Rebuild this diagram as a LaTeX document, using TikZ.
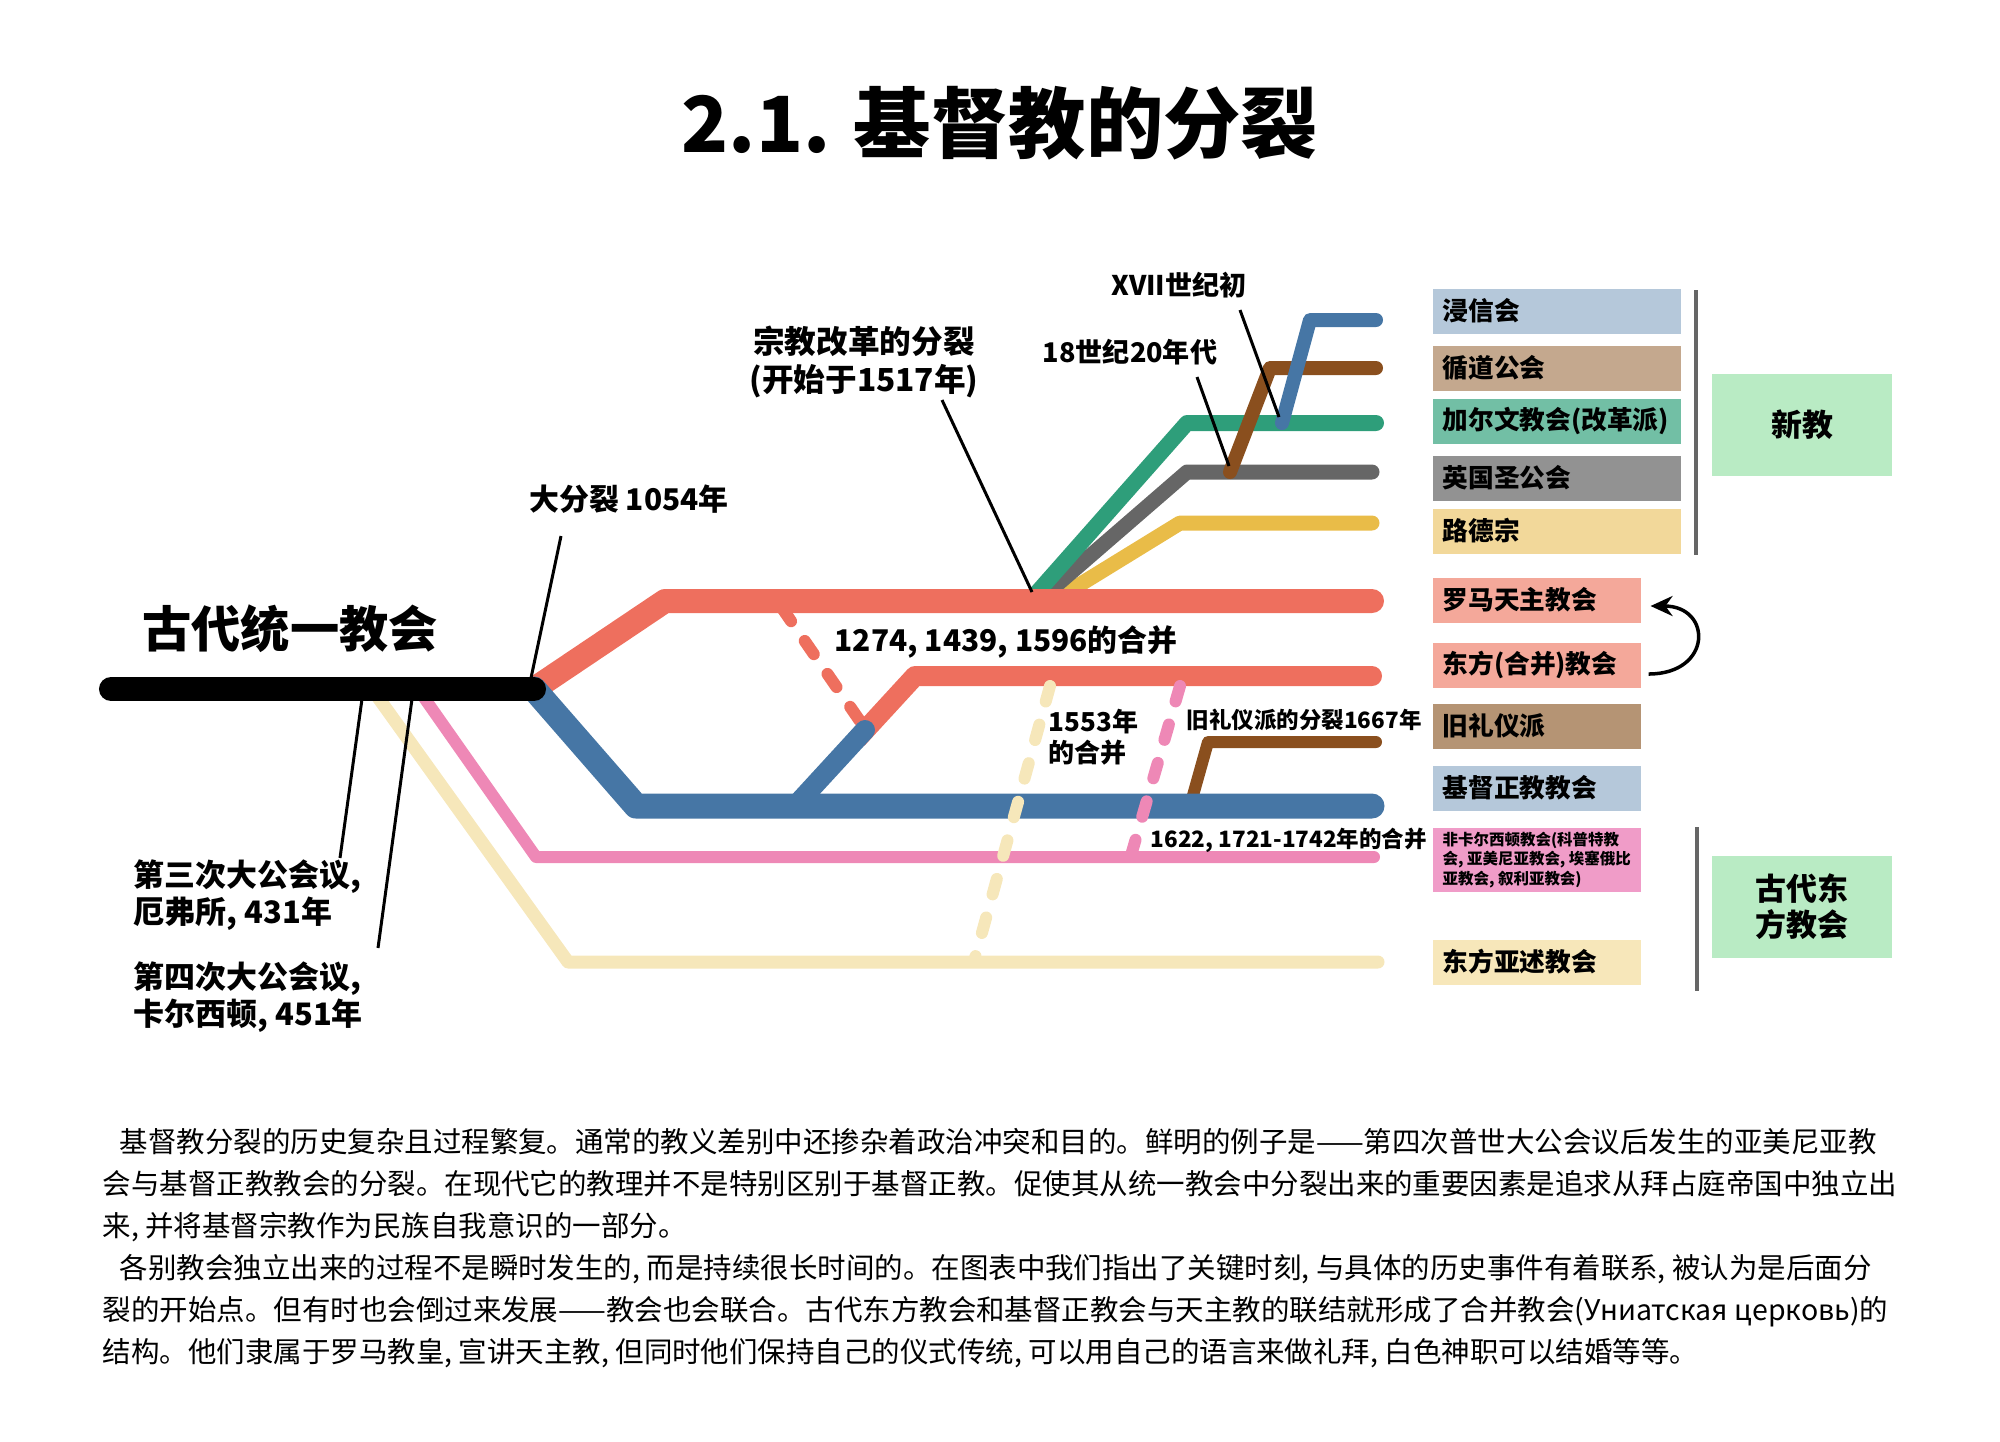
\documentclass[tikz,border=0pt]{standalone}
\usepackage{fontspec}
\setmainfont{Noto Sans CJK SC}
\usepackage{tikz}
\usetikzlibrary{arrows.meta,positioning,calc}

\definecolor{latin}{HTML}{EE6F5E}
\definecolor{orthodox}{HTML}{4676A5}
\definecolor{nonchalc}{HTML}{EE88B6}
\definecolor{assyrian}{HTML}{F6E7BA}
\definecolor{calvin}{HTML}{2E9E7A}
\definecolor{anglican}{HTML}{666666}
\definecolor{luther}{HTML}{E9BC48}
\definecolor{methodist}{HTML}{8A4F1E}
\definecolor{keybaptist}{HTML}{B5C8DA}
\definecolor{keymethodist}{HTML}{C4A88E}
\definecolor{keycalvin}{HTML}{72BFA5}
\definecolor{keyanglican}{HTML}{929292}
\definecolor{keyluther}{HTML}{F2D89A}
\definecolor{keylatin}{HTML}{F4A89A}
\definecolor{keyoldrite}{HTML}{B59474}
\definecolor{keynonchalc}{HTML}{F09CC8}
\definecolor{keyassyrian}{HTML}{F7E7BA}
\definecolor{keygroup}{HTML}{B9EBC4}

\begin{document}
\begin{tikzpicture}[x = 0.01cm, y = -0.01cm,
    branch/.style = {line cap = round, line join = round},
    merge/.style = {line cap = round, line width = 1.2mm, dash pattern = on 1.6mm off 2.4mm},
    leader/.style = {line width = 0.3mm},
    lab/.style = {inner sep = 0, font = \bfseries\fontsize{8.5}{11}\selectfont},
    small/.style = {inner sep = 0, anchor = west, align = left, font = \bfseries\fontsize{6.4}{8.8}\selectfont},
    keybox/.style = {anchor = west, inner xsep = 0.1cm, inner ysep = 0, minimum height = 0.45cm, align = left, font = \bfseries\fontsize{7.3}{9}\selectfont},
    groupbox/.style = {fill = keygroup, minimum width = 1.8cm, minimum height = 1.01cm, align = center, font = \bfseries\fontsize{8.8}{10.2}\selectfont}]
    \useasboundingbox (0,0) rectangle (2000,1441);
    \node[font = \bfseries\fontsize{22}{26}\selectfont] (title) at (1000,123) {2.1. 基督教的分裂};
    % Ancient eastern churches
    \draw[branch, line width = 1.3mm, assyrian] (372,689) -- (568,962) -- (1378,962);
    \draw[branch, line width = 1.2mm, nonchalc] (418,689) -- (536,857) -- (1374,857);
    % Protestants
    \draw[branch, line width = 1.5mm, luther] (1058,598) -- (1180,523) -- (1372,523);
    \draw[branch, line width = 1.5mm, anglican] (1045,595) -- (1187,472) -- (1372,472);
    \draw[branch, line width = 1.6mm, calvin] (1035,595) -- (1187,423) -- (1376,423);
    \draw[branch, line width = 1.4mm, methodist] (1230,472) -- (1270,368) -- (1376,368);
    \draw[branch, line width = 1.4mm, orthodox] (1282,423) -- (1310,320) -- (1376,320);
    % Rome and the uniates
    \draw[branch, line width = 2.4mm, latin] (534,689) -- (665,601) -- (1372,601);
    \draw[branch, line width = 2mm, latin] (858,738) -- (915,676) -- (1372,676);
    \draw[merge, latin] (782,608) -- (862,724);
    % Orthodox
    \draw[branch, line width = 1.2mm, methodist] (1190,806) -- (1208,742) -- (1376,742);
    \draw[branch, line width = 2.5mm, orthodox] (534,689) -- (636,806) -- (1372,806);
    \draw[branch, line width = 2mm, orthodox] (797,804) -- (865,730);
    \draw[merge, assyrian] (1050,686) -- (975,958);
    \draw[merge, nonchalc] (1180,686) -- (1132,852);
    % Ancient united church
    \draw[branch, line width = 2.4mm, black] (111,689) -- (534,689);
    \node[inner sep = 0, font = \bfseries\fontsize{14}{16}\selectfont] (united) at (290,629) {古代统一教会};
    % Labels and leaders
    \node[lab] (schism) at (629,499) {大分裂 1054年};
    \draw[leader] (561,536) -- (531,678);
    \node[lab, font = \bfseries\fontsize{9}{11}\selectfont, align = center] (reform) at (864,362) {宗教改革的分裂\\(开始于1517年)};
    \draw[leader] (942,400) -- (1032,592);
    \node[lab, font = \bfseries\fontsize{7.7}{9}\selectfont] (xvii) at (1179,285) {XVII世纪初};
    \draw[leader] (1240,310) -- (1279,417);
    \node[lab, font = \bfseries\fontsize{7.7}{9}\selectfont] (xviii) at (1130,352) {18世纪20年代};
    \draw[leader] (1197,377) -- (1229,466);
    \node[lab, anchor = west] (union1) at (834,642) {1274, 1439, 1596的合并};
    \node[small, font = \bfseries\fontsize{7.4}{8.8}\selectfont] (union2) at (1048,737) {1553年\\的合并};
    \node[small] (oldsplit) at (1186,720) {旧礼仪派的分裂1667年};
    \node[small] (union3) at (1150,840) {1622, 1721-1742年的合并};
    \node[small, font = \bfseries\fontsize{8.8}{10.3}\selectfont] (ephesus) at (133,895) {第三次大公会议,\\厄弗所, 431年};
    \draw[leader] (362,699) -- (340,858);
    \node[small, font = \bfseries\fontsize{8.8}{10.3}\selectfont] (chalcedon) at (133,997) {第四次大公会议,\\卡尔西顿, 451年};
    \draw[leader] (412,699) -- (378,948);
    % Key
    \node[keybox, fill = keybaptist, text width = 2.28cm] (key-baptist) at (1432,311) {浸信会};
    \node[keybox, fill = keymethodist, text width = 2.28cm] (key-methodist) at (1432,368) {循道公会};
    \node[keybox, fill = keycalvin, text width = 2.28cm] (key-calvin) at (1432,421) {加尔文教会(改革派)};
    \node[keybox, fill = keyanglican, text width = 2.28cm] (key-anglican) at (1432,478) {英国圣公会};
    \node[keybox, fill = keyluther, text width = 2.28cm] (key-luther) at (1432,531) {路德宗};
    \node[keybox, fill = keylatin, text width = 1.88cm] (key-latin) at (1432,600) {罗马天主教会};
    \node[keybox, fill = keylatin, text width = 1.88cm] (key-uniate) at (1432,665) {东方(合并)教会};
    \node[keybox, fill = keyoldrite, text width = 1.88cm] (key-oldrite) at (1432,726) {旧礼仪派};
    \node[keybox, fill = keybaptist, text width = 1.88cm] (key-orthodox) at (1432,788) {基督正教教会};
    \node[keybox, fill = keynonchalc, inner xsep = 0.08cm, minimum width = 2.08cm, minimum height = 0.64cm, font = \bfseries\fontsize{4.4}{5.5}\selectfont] (key-nonchalc) at (1432,860) {非卡尔西顿教会(科普特教\\会, 亚美尼亚教会, 埃塞俄比\\亚教会, 叙利亚教会)};
    \node[keybox, fill = keyassyrian, text width = 1.88cm] (key-assyrian) at (1432,962) {东方亚述教会};
    \draw[-{Stealth[length = 2.2mm, width = 2mm]}, line width = 0.35mm] ($(key-uniate.east)+(7,9)$) .. controls +(64,0) and +(62,0) .. ($(key-latin.east)+(9,6)$);
    \draw[line width = 0.4mm, anglican] (1696,290) -- (1696,555);
    \draw[line width = 0.4mm, anglican] (1697,827) -- (1697,991);
    \node[groupbox] (protestant) at (1802,425) {新教};
    \node[groupbox] (eastern) at (1802,907) {古代东\\方教会};
    % Text
    \node[inner sep = 0, anchor = west, align = left, font = \fontsize{8.1}{11.9}\selectfont] (body) at (102,1248) {%
      \hspace*{0.17cm}基督教分裂的历史复杂且过程繁复。通常的教义差别中还掺杂着政治冲突和目的。鲜明的例子是——第四次普世大公会议后发生的亚美尼亚教\\
      会与基督正教教会的分裂。在现代它的教理并不是特别区别于基督正教。促使其从统一教会中分裂出来的重要因素是追求从拜占庭帝国中独立出\\
      来, 并将基督宗教作为民族自我意识的一部分。\\
      \hspace*{0.17cm}各别教会独立出来的过程不是瞬时发生的, 而是持续很长时间的。在图表中我们指出了关键时刻, 与具体的历史事件有着联系, 被认为是后面分\\
      裂的开始点。但有时也会倒过来发展——教会也会联合。古代东方教会和基督正教会与天主教的联结就形成了合并教会(Униатская церковь)的\\
      结构。他们隶属于罗马教皇, 宣讲天主教, 但同时他们保持自己的仪式传统, 可以用自己的语言来做礼拜, 白色神职可以结婚等等。};
\end{tikzpicture}
\end{document}
